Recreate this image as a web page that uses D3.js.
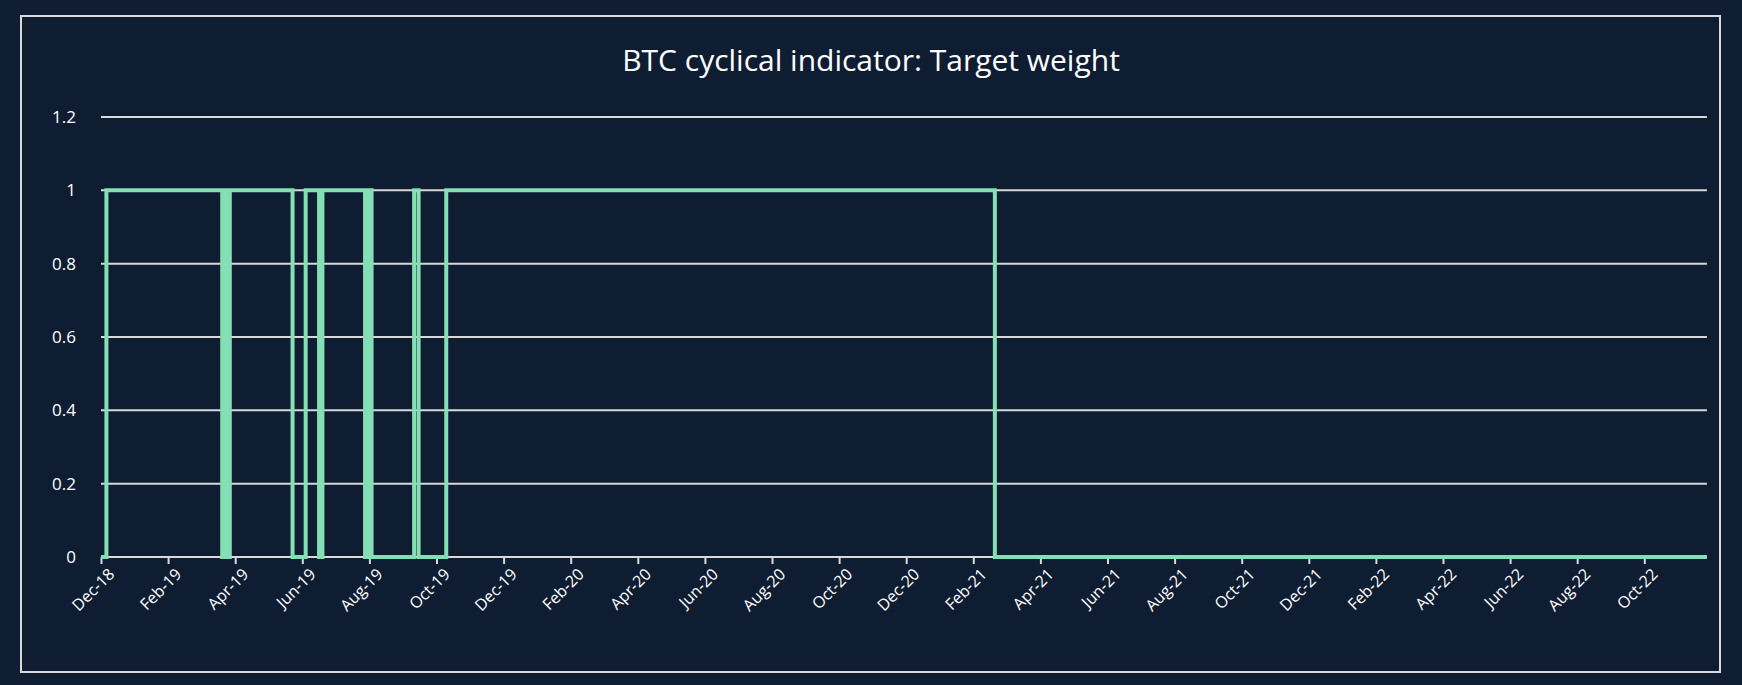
<!DOCTYPE html>
<html><head><meta charset="utf-8">
<script src="https://cdn.jsdelivr.net/npm/d3@7"></script>
<style>body{margin:0;background:#0f1d33;}svg{display:block}</style>
</head><body><svg id="c" width="1742" height="685"></svg>
<script>
const changeDates = ["2018-12-01","2018-12-06","2019-03-20","2019-03-22","2019-03-24","2019-03-27","2019-05-23","2019-06-04","2019-06-16","2019-06-19","2019-07-28","2019-07-31","2019-08-03","2019-08-07","2019-09-11","2019-09-15","2019-09-18","2019-10-10","2021-02-19","2022-11-27"];
const weights = [0,1,0,1,0,1,0,1,0,1,0,1,0,0,1,0,0,1,0,0];
const yTicks = [0,0.2,0.4,0.6,0.8,1,1.2];
const tickMonths = d3.timeMonth.range(new Date(2018,11,1), new Date(2022,10,2), 2);
const fmt = d3.timeFormat("%b-%y");

const svg = d3.select("#c");
const W=1742,H=685, L=101, T=117, B=557, monthW=33.55;
svg.append("rect").attr("x",21).attr("y",16).attr("width",1699).attr("height",656)
  .attr("fill","#0f1d33").attr("stroke","#d9d9d9").attr("stroke-width",2);
svg.append("text").attr("x",871).attr("y",71).attr("text-anchor","middle")
  .attr("fill","#fff").attr("font-family","'Open Sans', sans-serif").attr("font-size",30).text("BTC cyclical indicator: Target weight");

const data = changeDates.map((d,i)=>({d:d3.timeParse("%Y-%m-%d")(d), v:weights[i]}));
const months = d3.timeMonth.range(new Date(2018,11,1), new Date(2023,0,2));
const x = d3.scaleTime().domain(months).range(months.map((m,i)=>L+i*monthW));
const R = x(new Date(2022,10,27));
const y = d3.scaleLinear().domain([0,1.2]).range([B,T]);

const g = svg.append("g");
yTicks.forEach(t=>{
  g.append("line").attr("x1",L).attr("x2",R).attr("y1",y(t)).attr("y2",y(t)).attr("stroke","#d9d9d9").attr("stroke-width",2);
  g.append("text").attr("x",76).attr("y",y(t)+6).attr("text-anchor","end").attr("fill","#fff")
   .attr("font-family","'Open Sans', sans-serif").attr("font-size",17).text(t);
});
const xa = svg.append("g").attr("transform",`translate(0,${B})`)
  .call(d3.axisBottom(x).tickValues(tickMonths).tickFormat(fmt).tickSize(7).tickSizeOuter(0));
xa.select(".domain").attr("stroke","#d9d9d9").attr("stroke-width",2).attr("d",`M${L},0H${R}`);
xa.selectAll(".tick line").attr("stroke","#d9d9d9").attr("stroke-width",2);
xa.selectAll(".tick text").attr("fill","#fff").attr("font-family","'Open Sans', sans-serif").attr("font-size",16)
  .attr("text-anchor","end").attr("transform","rotate(-45)").attr("dx","-0.2em").attr("dy","0.8em");

svg.append("path").datum(data).attr("fill","none").attr("stroke","#84e0b4").attr("stroke-width",4)
  .attr("d", d3.line().x(d=>x(d.d)).y(d=>y(d.v)).curve(d3.curveStepAfter));
</script></body></html>
